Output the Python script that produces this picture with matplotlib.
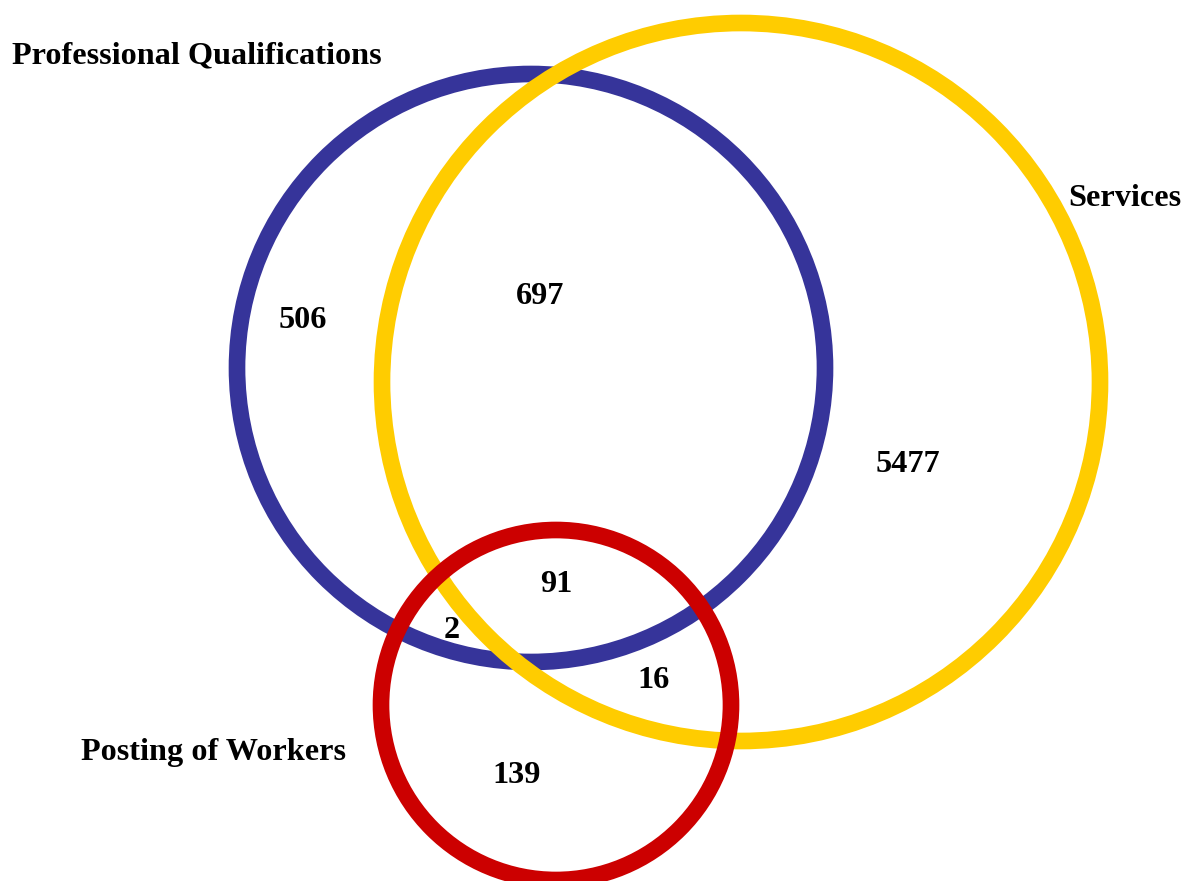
import matplotlib.pyplot as plt
from matplotlib.patches import Circle

# ── data ───────────────────────────
set_names = ['Professional Qualifications', 'Services', 'Posting of Workers']
set_colors = ['#36349a', '#ffcc00', '#cc0000']
region_labels = ['506', '697', '5477', '91', '2', '16', '139']

# ── layout (pixel coords, y down) ──
circle_xy = [(531, 368), (741, 382), (556, 705)]
circle_r = [294, 359, 175]
name_xy = [(12, 63), (1068, 206), (81, 760)]
region_xy = [(303, 328), (540, 304), (908, 472), (556, 592),
             (452, 638), (653, 688), (517, 783)]

plt.rcParams['font.family'] = ['Liberation Serif', 'DejaVu Serif']

fig = plt.figure(figsize=(11.82, 8.81), dpi=100)
ax = fig.add_axes([0, 0, 1, 1])
ax.set_xlim(0, 1182)
ax.set_ylim(881, 0)
ax.set_aspect('equal')
ax.axis('off')

for (cx, cy), r, col, z in zip(circle_xy, circle_r, set_colors, [1, 2, 3]):
    ax.add_patch(Circle((cx, cy), r, fill=False, edgecolor=col,
                        linewidth=12, zorder=z))

for name, (x, y) in zip(set_names, name_xy):
    ax.text(x, y, name, ha='left', va='baseline', fontsize=23.2,
            fontweight='bold', color='black', zorder=5)

for lab, (x, y) in zip(region_labels, region_xy):
    ax.text(x, y, lab, ha='center', va='baseline', fontsize=23.2,
            fontweight='bold', color='black', zorder=5)

fig.savefig('out.png', dpi=100, facecolor='white')
